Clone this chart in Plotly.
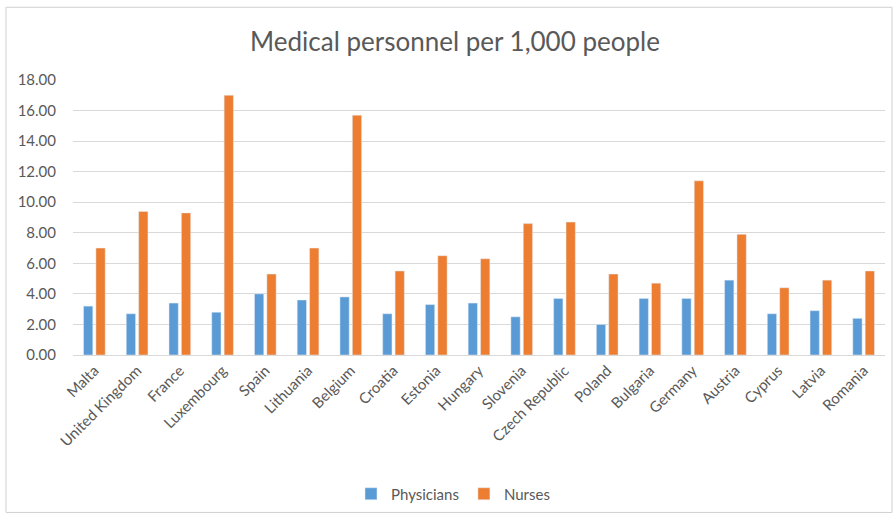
import plotly.graph_objects as go

countries = ["Malta", "United Kingdom", "France", "Luxembourg", "Spain", "Lithuania",
             "Belgium", "Croatia", "Estonia", "Hungary", "Slovenia", "Czech Republic",
             "Poland", "Bulgaria", "Germany", "Austria", "Cyprus", "Latvia", "Romania"]
physicians = [3.2, 2.7, 3.4, 2.8, 4.0, 3.6, 3.8, 2.7, 3.3, 3.4, 2.5, 3.7,
              2.0, 3.7, 3.7, 4.9, 2.7, 2.9, 2.4]
nurses = [7.0, 9.4, 9.3, 17.0, 5.3, 7.0, 15.7, 5.5, 6.5, 6.3, 8.6, 8.7,
          5.3, 4.7, 11.4, 7.9, 4.4, 4.9, 5.5]
y_ticks = [0, 2, 4, 6, 8, 10, 12, 14, 16, 18]

gray = "#595959"
font_family = "Lato, 'Open Sans', sans-serif"

fig = go.Figure()
fig.add_trace(go.Bar(x=countries, y=physicians, name="Physicians", marker_color="#5B9BD5"))
fig.add_trace(go.Bar(x=countries, y=nurses, name="Nurses", marker_color="#ED7D31"))

W, H = 894, 518
ml, mr, mt, mb = 73, 9, 80, 162
pw, ph = W - ml - mr, H - mt - mb

def px_x(x):
    return (x - ml) / pw

def px_y(y):
    return (H - mb - y) / ph

fig.update_layout(
    width=W, height=H,
    margin=dict(l=ml, r=mr, t=mt, b=mb),
    paper_bgcolor="white", plot_bgcolor="white",
    barmode="group", bargap=0.42, bargroupgap=0.25,
    font=dict(family=font_family, color=gray, size=15),
    title=dict(text="Medical personnel per 1,000 people", x=455 / W,
               xanchor="center", y=1 - 42 / H, yanchor="middle",
               font=dict(size=26, color=gray, family=font_family)),
    showlegend=True,
    legend=dict(orientation="h", x=px_x(453), xanchor="center", y=px_y(494), yanchor="middle",
                font=dict(size=15, color=gray), itemwidth=30),
    xaxis=dict(tickangle=-45, showgrid=False, showline=True, linecolor="#d9d9d9",
               ticks="", tickfont=dict(size=15, color=gray)),
    yaxis=dict(range=[0, 18], tickvals=y_ticks, tickformat=".2f", showgrid=True,
               gridcolor="#d9d9d9", zeroline=False, showline=False, ticks="",
               ticklabelstandoff=16, tickfont=dict(size=15, color=gray)),
    shapes=[dict(type="rect", xref="paper", yref="paper",
                 x0=px_x(6), x1=px_x(892), y0=px_y(514), y1=px_y(7),
                 line=dict(color="#d0d0d0", width=1), fillcolor="rgba(0,0,0,0)", layer="below")],
)

fig.write_html("out.html")
